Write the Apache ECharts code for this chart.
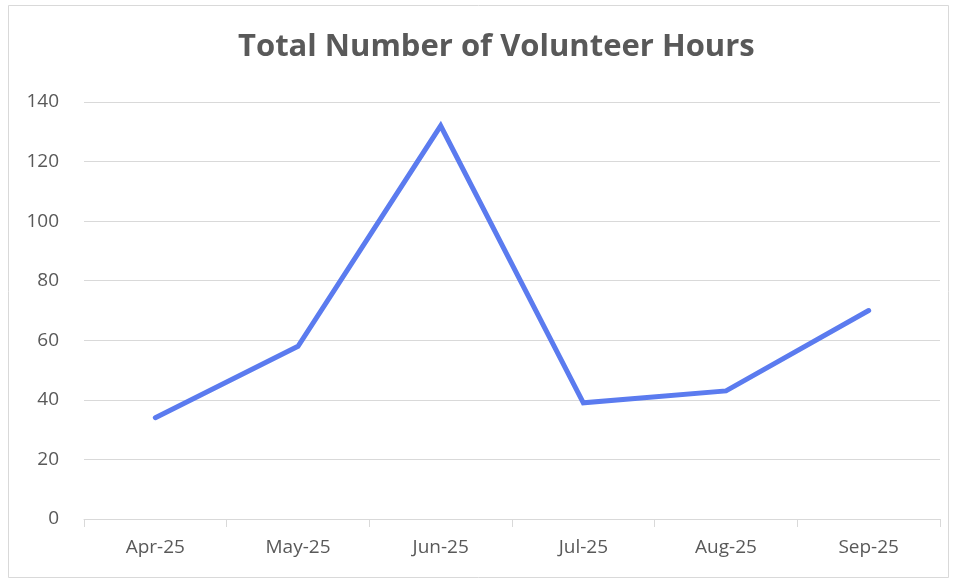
<!DOCTYPE html>
<html>
<head>
<meta charset="utf-8">
<script src="https://cdn.jsdelivr.net/npm/echarts@6/dist/echarts.min.js"></script>
<style>
  html, body { margin: 0; padding: 0; background: #fff; }
  #chart { width: 958px; height: 582px; }
</style>
</head>
<body>
<div id="chart"></div>
<script>
// data
var months = ['Apr-25', 'May-25', 'Jun-25', 'Jul-25', 'Aug-25', 'Sep-25'];
var hours = [34, 58, 132, 39, 43, 70];
var yTicks = [0, 20, 40, 60, 80, 100, 120, 140];

document.addEventListener("DOMContentLoaded", function () {
    var chartDom = document.getElementById('chart');
    var myChart = echarts.init(chartDom);
    var textColor = '#595959';
    var lineGray = '#d9d9d9';

    var option = {
        animation: false,
        backgroundColor: '#fff',
        title: {
            text: 'Total Number of Volunteer Hours',
            left: 233,
            top: 27,
            textStyle: {
                fontFamily: 'Open Sans',
                fontWeight: 'bold',
                fontSize: 31,
                color: textColor
            }
        },
        graphic: [{
            type: 'rect',
            shape: { x: 8.5, y: 5.5, width: 940, height: 572 },
            style: { fill: 'none', stroke: lineGray, lineWidth: 1 },
            silent: true
        }],
        grid: {
            left: 84,
            right: 18,
            top: 102,
            bottom: 63
        },
        xAxis: {
            type: 'category',
            data: months,
            boundaryGap: true,
            axisLine: { lineStyle: { color: lineGray, width: 1 } },
            axisTick: { show: true, length: 8, lineStyle: { color: lineGray } },
            axisLabel: {
                margin: 19,
                fontFamily: 'Open Sans',
                fontSize: 19,
                color: textColor
            }
        },
        yAxis: {
            type: 'value',
            min: yTicks[0],
            max: yTicks[yTicks.length - 1],
            interval: yTicks[1] - yTicks[0],
            axisLine: { show: false },
            axisTick: { show: false },
            splitLine: { lineStyle: { color: lineGray, width: 1 } },
            axisLabel: {
                margin: 25,
                fontFamily: 'Open Sans',
                fontSize: 19,
                color: textColor
            }
        },
        series: [{
            name: 'Volunteer Hours',
            type: 'line',
            data: hours,
            symbol: 'none',
            lineStyle: { color: '#5b7bef', width: 5, cap: 'round', join: 'miter' },
            itemStyle: { color: '#5b7bef' }
        }]
    };

    myChart.setOption(option);
});
</script>
</body>
</html>
